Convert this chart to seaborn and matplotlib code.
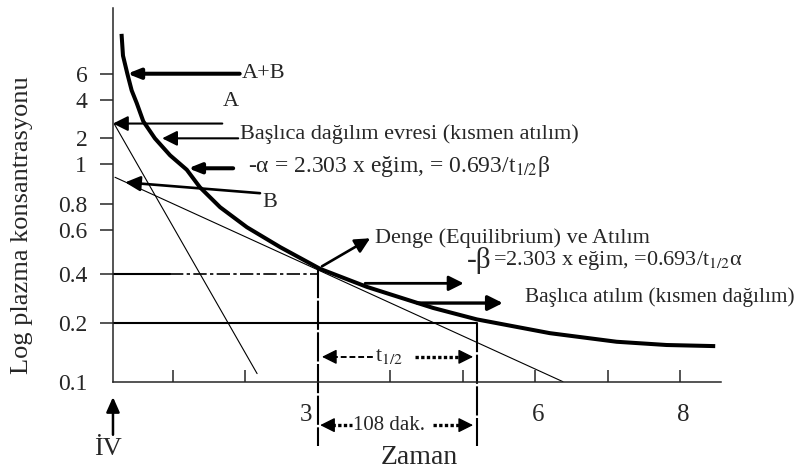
import numpy as np
import pandas as pd
import matplotlib
matplotlib.use("Agg")
import matplotlib.pyplot as plt
from matplotlib.ticker import FixedLocator, NullLocator
import seaborn as sns

# Biexponential plasma decay after an IV bolus (time, concentration)
time_curve = [0.29, 0.31, 0.37, 0.43, 0.50, 0.59, 0.75, 0.96, 1.19, 1.37,
              1.65, 2.02, 2.48, 3.03, 3.68, 4.59, 5.19, 6.20, 7.12, 7.81, 8.48]
conc_curve = [11.0, 7.9, 6.0, 4.65, 3.8, 2.73, 2.0, 1.27, 0.97, 0.88,
              0.774, 0.62, 0.513, 0.42, 0.333, 0.247, 0.21, 0.177, 0.160,
              0.154, 0.152]

# Back-extrapolated straight lines of the two phases
time_a = [0.19, 2.16]
conc_a = [2.6, 0.11]
time_b = [0.20, 6.38]
conc_b = [0.93, 0.10]

# Half-life reading on the elimination phase
half_t = [3.0, 5.19]
half_c = [0.4, 0.2]

# Axis ticks
y_levels = [0.1, 0.2, 0.4, 0.6, 0.8, 1, 2, 4, 6]
y_labels = ["0.1", "0.2", "0.4", "0.6", "0.8", "1", "2", "4", "6"]
x_ticks = [1, 2, 3, 4, 5, 6, 7, 8]
x_named = [3, 6, 8]

# Hand-drawn spacing of the concentration axis (relative distances of the ticks)
y_spacing = [0, 59, 107.7, 151.7, 177.7, 217.7, 243.7, 281.7, 308.4]

_logl = np.log10(y_levels)
_pos = np.asarray(y_spacing, float)
_lo = (_pos[1] - _pos[0]) / (_logl[1] - _logl[0])
_hi = (_pos[-1] - _pos[-2]) / (_logl[-1] - _logl[-2])


def conc_to_pos(v):
    lv = np.log10(np.clip(np.asarray(v, float), 1e-9, None))
    out = np.interp(lv, _logl, _pos)
    out = np.where(lv < _logl[0], _pos[0] + (lv - _logl[0]) * _lo, out)
    out = np.where(lv > _logl[-1], _pos[-1] + (lv - _logl[-1]) * _hi, out)
    return out


def pos_to_conc(p):
    p = np.asarray(p, float)
    lv = np.interp(p, _pos, _logl)
    lv = np.where(p < _pos[0], _logl[0] + (p - _pos[0]) / _lo, lv)
    lv = np.where(p > _pos[-1], _logl[-1] + (p - _pos[-1]) / _hi, lv)
    return 10 ** lv


sns.set_style("ticks")
plt.rcParams["font.family"] = ["Liberation Serif", "DejaVu Serif"]
plt.rcParams["mathtext.fontset"] = "stix"

fig = plt.figure(figsize=(8.03, 4.73), dpi=100)
ax = fig.add_axes([0.1407, 0.1930, 0.7572, 0.7901])
ax.set_yscale("function", functions=(conc_to_pos, pos_to_conc))

curve = pd.DataFrame({"Zaman": time_curve, "C": conc_curve})
sns.lineplot(data=curve, x="Zaman", y="C", ax=ax, color="black", lw=2.9,
             sort=False, estimator=None, solid_capstyle="butt",
             solid_joinstyle="round")
sns.lineplot(x=time_a, y=conc_a, ax=ax, color="black", lw=0.8,
             sort=False, estimator=None)
sns.lineplot(x=time_b, y=conc_b, ax=ax, color="black", lw=0.8,
             sort=False, estimator=None)

x0, x1 = 0.172, 8.56
ax.set_xlim(x0, x1)
ax.set_ylim(0.1, 16.3)

# guide lines at the two concentrations
ax.plot([x0, 0.96], [half_c[0]] * 2, color="black", lw=1.5)
ax.plot([0.96, half_t[0]], [half_c[0]] * 2, color="black", lw=1.2,
        ls=(0, (8, 2, 2, 2)))
ax.plot([x0, half_t[1]], [half_c[1]] * 2, color="black", lw=1.5)
drop = 0.047
ax.plot([half_t[0], half_t[0]], [0.42, drop], color="black", lw=1.5,
        ls=(0, (14, 1.2)), clip_on=False)
ax.plot([half_t[1], half_t[1]], [half_c[1], drop], color="black", lw=1.5,
        ls=(0, (14, 1.2)), clip_on=False)


def arrow(tail, tip, lw, hl=0.9, hw=0.45, ms=10):
    ax.annotate("", xy=tip, xytext=tail, annotation_clip=False,
                arrowprops=dict(arrowstyle=f"-|>,head_length={hl},head_width={hw}",
                                lw=lw, color="black", shrinkA=0, shrinkB=0,
                                mutation_scale=ms))


fs_mid = 16

arrow((1.92, 6.0), (0.37, 6.0), 2.9, 0.75, 0.3)
ax.text(1.95, 6.0, "A+B", fontsize=16, ha="left", va="center")

arrow((1.68, 2.62), (0.172, 2.62), 1.5)
ax.text(1.80, 3.9, "A", fontsize=16, ha="center", va="center")

arrow((1.90, 2.0), (0.85, 2.0), 1.5)
ax.text(1.924, 2.15, "Başlıca dağılım evresi (kısmen atılım)", fontsize=fs_mid,
        ha="left", va="center")

arrow((1.83, 0.978), (1.21, 0.978), 2.9, 0.75, 0.3)
ax.text(2.03, 0.99, "-α = 2.303 x eğim, = 0.693/t$_{1/2}$β",
        fontsize=17, ha="left", va="center")

arrow((2.20, 0.851), (0.34, 0.904), 1.9)
ax.text(2.23, 0.81, "B", fontsize=16, ha="left", va="center")

arrow((3.055, 0.43), (3.72, 0.557), 1.9)
ax.text(3.79, 0.56, "Denge (Equilibrium) ve Atılım", fontsize=fs_mid,
        ha="left", va="center")

arrow((3.65, 0.351), (5.01, 0.351), 2.0)
ax.text(5.055, 0.455, "-β", fontsize=21, ha="left", va="center")
ax.text(5.42, 0.455, "=2.303 x eğim, =0.693/t$_{1/2}$α", fontsize=fs_mid,
        ha="left", va="center")

arrow((4.37, 0.265), (5.55, 0.265), 2.4)
ax.text(5.855, 0.288, "Başlıca atılım (kısmen dağılım)", fontsize=15.3,
        ha="left", va="center")

# half-life brackets
y_h = 0.134
ax.plot([3.2, 3.76], [y_h, y_h], color="black", lw=1.4, ls=(0, (3, 1.5)))
arrow((3.25, y_h), (3.055, y_h), 1.0)
ax.text(3.79, y_h, "t$_{1/2}$", fontsize=fs_mid, ha="left", va="center")
ax.plot([4.34, 5.0], [y_h, y_h], color="black", lw=2.4, ls=(0, (1, 0.7)))
arrow((4.95, y_h), (5.14, y_h), 1.0)

y_d = 0.060
ax.plot([3.2, 3.47], [y_d, y_d], color="black", lw=2.4, ls=(0, (1, 0.7)),
        clip_on=False)
arrow((3.22, y_d), (3.03, y_d), 1.0)
ax.text(3.48, y_d, "108 dak.", fontsize=15, ha="left", va="center")
ax.plot([4.59, 5.0], [y_d, y_d], color="black", lw=2.4, ls=(0, (1, 0.7)),
        clip_on=False)
arrow((4.95, y_d), (5.14, y_d), 1.0)

# axes styling
sns.despine(ax=ax)
for side in ("left", "bottom"):
    ax.spines[side].set_linewidth(1.1)
ax.yaxis.set_major_locator(FixedLocator(y_levels))
ax.yaxis.set_minor_locator(NullLocator())
ax.set_yticklabels(y_labels)
ax.tick_params(axis="y", direction="out", length=9.5, width=1.1, pad=9,
               labelsize=17)
ax.yaxis.get_major_ticks()[0].tick1line.set_visible(False)
ax.set_xticks(x_ticks)
ax.set_xticklabels([])
ax.tick_params(axis="x", direction="in", length=8.5, width=1.1)
ax.set_xlabel("")
ax.set_ylabel("")

xt = ax.get_xaxis_transform()
for v in x_named:
    dx = -12 if v == 3 else 3
    ax.annotate(str(v), xy=(v, 0), xycoords=xt, xytext=(dx, -33),
                textcoords="offset pixels", fontsize=18, ha="center",
                va="center", annotation_clip=False)

# IV dose marker
ax.annotate("", xy=(0, -0.041), xycoords="axes fraction", xytext=(0, -0.142),
            textcoords="axes fraction",
            arrowprops=dict(arrowstyle="-|>,head_length=0.9,head_width=0.4",
                            lw=1.8, color="black", shrinkA=0, shrinkB=0,
                            mutation_scale=10), annotation_clip=False)
ax.text(-0.008, -0.18, "İV", transform=ax.transAxes, fontsize=19,
        ha="center", va="center")

fig.text(419 / 803, 1 - 457 / 473, "Zaman", fontsize=20, ha="center",
         va="center")
fig.text(22 / 803, 1 - 225 / 473, "Log plazma konsantrasyonu", fontsize=19,
         rotation=90, ha="center", va="center")

fig.savefig("out.png", dpi=100)
